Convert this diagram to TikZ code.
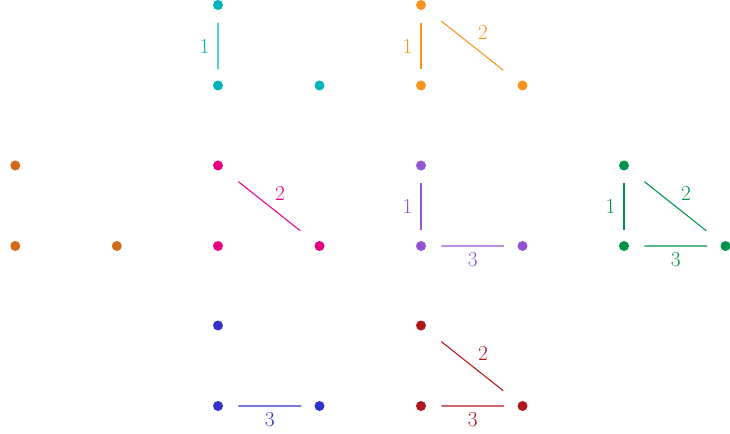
\documentclass[tikz,border=0pt]{standalone}
\usetikzlibrary{calc}
\definecolor{cCyan}{RGB}{0,180,185}
\definecolor{cOrange}{RGB}{247,148,30}
\definecolor{cBrown}{RGB}{210,105,25}
\definecolor{cMagenta}{RGB}{232,0,130}
\definecolor{cPurple}{RGB}{145,85,210}
\definecolor{cGreen}{RGB}{0,148,75}
\definecolor{cBlue}{RGB}{50,50,200}
\definecolor{cRed}{RGB}{175,25,30}
\tikzset{
  vtx/.style={circle, inner sep=0pt, minimum size=7.5pt},
  edg/.style={line width=0.8pt},
  lbl/.style={font=\fontsize{16}{19}\selectfont, inner sep=3pt}
}
\begin{document}
\begin{tikzpicture}[x=0.75pt,y=-0.75pt]
  \useasboundingbox (0,0) rectangle (730,434);
  % the three corners of every triangle
  \foreach \g/\x/\y/\c in {a/218/5/cCyan, b/421/5/cOrange, c/15.3/165.5/cBrown,
      d/218/165.5/cMagenta, e/421/165.5/cPurple, f/624/165.5/cGreen,
      g/218/325.5/cBlue, h/421/325.5/cRed} {
    \node[vtx, fill=\c] (\g-t) at (\x,\y) {};
    \node[vtx, fill=\c] (\g-l) at (\x,\y+80.5) {};
    \node[vtx, fill=\c] (\g-r) at (\x+101.5,\y+80.5) {};
  }
  % side 1
  \foreach \g/\c in {a/cCyan, b/cOrange, e/cPurple, f/cGreen}
    \draw[edg, \c] ($(\g-t)!0.22!(\g-l)$) -- node[lbl, left=3pt] {1} ($(\g-t)!0.8!(\g-l)$);
  % side 2
  \foreach \g/\c in {b/cOrange, d/cMagenta, f/cGreen, h/cRed}
    \draw[edg, \c] ($(\g-t)!0.2!(\g-r)$) -- node[lbl, above right=1pt] {2} ($(\g-t)!0.81!(\g-r)$);
  % side 3
  \foreach \g/\c in {e/cPurple, f/cGreen, g/cBlue, h/cRed}
    \draw[edg, \c] ($(\g-l)!0.2!(\g-r)$) -- node[lbl, below=1.5pt] {3} ($(\g-l)!0.82!(\g-r)$);
\end{tikzpicture}
\end{document}
